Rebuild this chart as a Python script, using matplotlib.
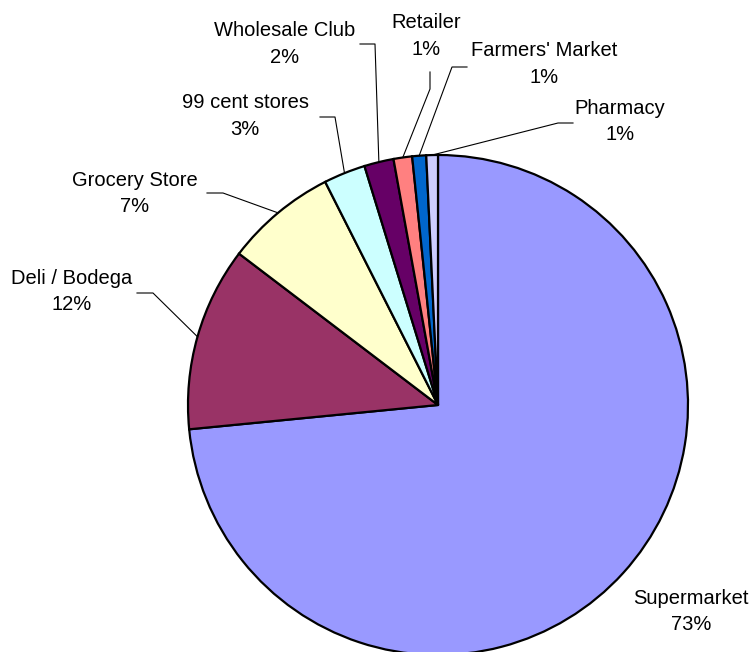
import numpy as np
import matplotlib.pyplot as plt

plt.rcParams['font.family'] = ['Liberation Sans', 'DejaVu Sans']

W, H = 754, 652

outlets = ["Supermarket", "Deli / Bodega", "Grocery Store", "99 cent stores",
           "Wholesale Club", "Retailer", "Farmers' Market", "Pharmacy"]
shares = [73.45, 11.9, 7.2, 2.7, 1.9, 1.2, 0.9, 0.75]
colors = ["#9999FF", "#993366", "#FFFFCC", "#CCFFFF",
          "#660066", "#FF8080", "#0066CC", "#CCCCFF"]

# label placement in pixel coords (x centre, baseline of the % line from top)
label_pos = [(691, 630), (71.5, 310), (135, 212), (245, 135),
             (284.5, 63), (426, 55), (544, 83), (620, 140)]
# leader line: start point and elbow, pixel coords from top; None = no line
leaders = [None,
           [(137, 293), (153, 293)],
           [(207, 193), (223, 193)],
           [(320, 117), (335, 117)],
           [(360, 44), (375, 44)],
           [(430, 72), (430, 89)],
           [(467, 67), (452, 67)],
           [(573, 123), (558, 123)]]

center = (438, H - 405)
radius = 250


def px(x, y):
    return x, H - y


fig = plt.figure(figsize=(W / 100, H / 100), dpi=100)
ax = fig.add_axes([0, 0, 1, 1])

wedges, _ = ax.pie(shares, colors=colors, startangle=90, counterclock=False,
                   center=center, radius=radius,
                   wedgeprops=dict(edgecolor='black', linewidth=1.6))
ax.set_xlim(0, W)
ax.set_ylim(0, H)
ax.axis('off')

total = sum(shares)
for w, name, val, (lx, ly), lead in zip(wedges, outlets, shares, label_pos, leaders):
    ax.text(*px(lx, ly), f"{name}\n{val / total * 100:.0f}%", ha='center',
            va='baseline', fontsize=14.5, linespacing=1.5, color='black')
    if lead is None:
        continue
    mid = np.deg2rad((w.theta1 + w.theta2) / 2)
    ex = center[0] + radius * np.cos(mid)
    ey = center[1] + radius * np.sin(mid)
    pts = [px(*p) for p in lead] + [(ex, ey)]
    xs, ys = zip(*pts)
    ax.plot(xs, ys, color='black', linewidth=0.8)

fig.savefig('out.png', dpi=100, facecolor='white')
